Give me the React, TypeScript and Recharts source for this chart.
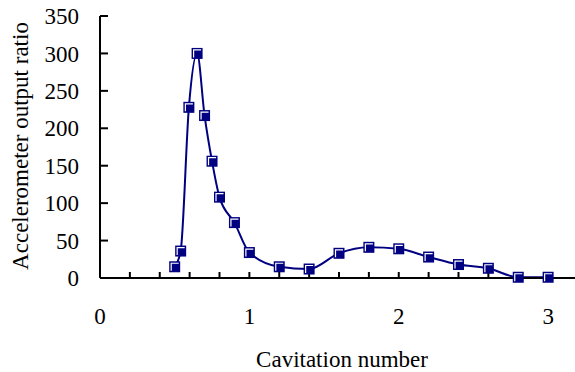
import { LineChart, Line, XAxis, YAxis } from 'recharts';

// values
const cavitationNumber = [0.5, 0.54, 0.595, 0.65, 0.7, 0.75, 0.8, 0.9, 1.0, 1.2, 1.4, 1.6, 1.8, 2.0, 2.2, 2.4, 2.6, 2.8, 3.0];
const outputRatio = [15, 36, 228, 300, 217, 156, 108, 74, 34, 15, 12, 33, 41, 39, 28, 18, 13, 1, 1];

const xTicks = [0, 0.2, 0.4, 0.6, 0.8, 1, 1.2, 1.4, 1.6, 1.8, 2, 2.2, 2.4, 2.6, 2.8, 3, 3.2];
const yTicks = [0, 50, 100, 150, 200, 250, 300, 350];

const NAVY = '#000080';
const FONT = '"Liberation Serif", "Times New Roman", serif';

const data = cavitationNumber.map((x, i) => ({ x, y: outputRatio[i] }));

function SquareMarker(props: any) {
  const { cx, cy, index } = props;
  if (cx == null || cy == null) return <g key={index} />;
  return (
    <g key={index}>
      <rect x={cx - 5.5} y={cy - 5.5} width={11} height={11} fill={NAVY} />
      <polyline
        points={`${cx - 3.5},${cy + 4} ${cx - 3.5},${cy - 3.5} ${cx + 4},${cy - 3.5}`}
        fill="none"
        stroke="#fff"
        strokeWidth={1.2}
      />
    </g>
  );
}

function YLabel() {
  return (
    <text
      x={28}
      y={146}
      transform="rotate(-90 28 146)"
      textAnchor="middle"
      fontSize={23}
      fill="#000"
    >
      Accelerometer output ratio
    </text>
  );
}

export default function App() {
  return (
    <div style={{ position: 'absolute', left: 0, top: 0, width: 575, height: 372, overflow: 'hidden', background: '#fff' }}>
      <LineChart
        width={600}
        height={372}
        data={data}
        margin={{ top: 16, right: 22, left: 0, bottom: 0 }}
        style={{ fontFamily: FONT }}
      >
        <XAxis
          dataKey="x"
          type="number"
          domain={[0, 3.2]}
          ticks={xTicks}
          tickFormatter={(v: number) => (Number.isInteger(v) ? String(v) : '')}
          height={94}
          tickSize={-6}
          tickMargin={36}
          tick={{ fill: '#000', fontSize: 23 }}
          axisLine={{ stroke: '#000', strokeWidth: 2 }}
          tickLine={{ stroke: '#000', strokeWidth: 2 }}
          label={{ value: 'Cavitation number', position: 'insideBottom', offset: 5, fill: '#000', fontSize: 23, dx: 3 }}
        />
        <XAxis
          xAxisId="top"
          orientation="top"
          type="number"
          domain={[0, 3.2]}
          height={0}
          tick={false}
          tickLine={false}
          axisLine={{ stroke: '#000', strokeWidth: 2 }}
        />
        <YAxis
          type="number"
          domain={[0, 350]}
          ticks={yTicks}
          width={100}
          tickSize={-8}
          tickMargin={29}
          tick={{ fill: '#000', fontSize: 23 }}
          axisLine={{ stroke: '#000', strokeWidth: 2 }}
          tickLine={{ stroke: '#000', strokeWidth: 2 }}
          label={{ content: () => <YLabel /> }}
        />
        <YAxis
          yAxisId="right"
          orientation="right"
          domain={[0, 350]}
          width={0}
          tick={false}
          tickLine={false}
          axisLine={{ stroke: '#000', strokeWidth: 2 }}
        />
        <Line
          type="monotone"
          dataKey="y"
          stroke={NAVY}
          strokeWidth={2}
          dot={(p: any) => <SquareMarker key={p.index} {...p} />}
          isAnimationActive={false}
        />
      </LineChart>
    </div>
  );
}
